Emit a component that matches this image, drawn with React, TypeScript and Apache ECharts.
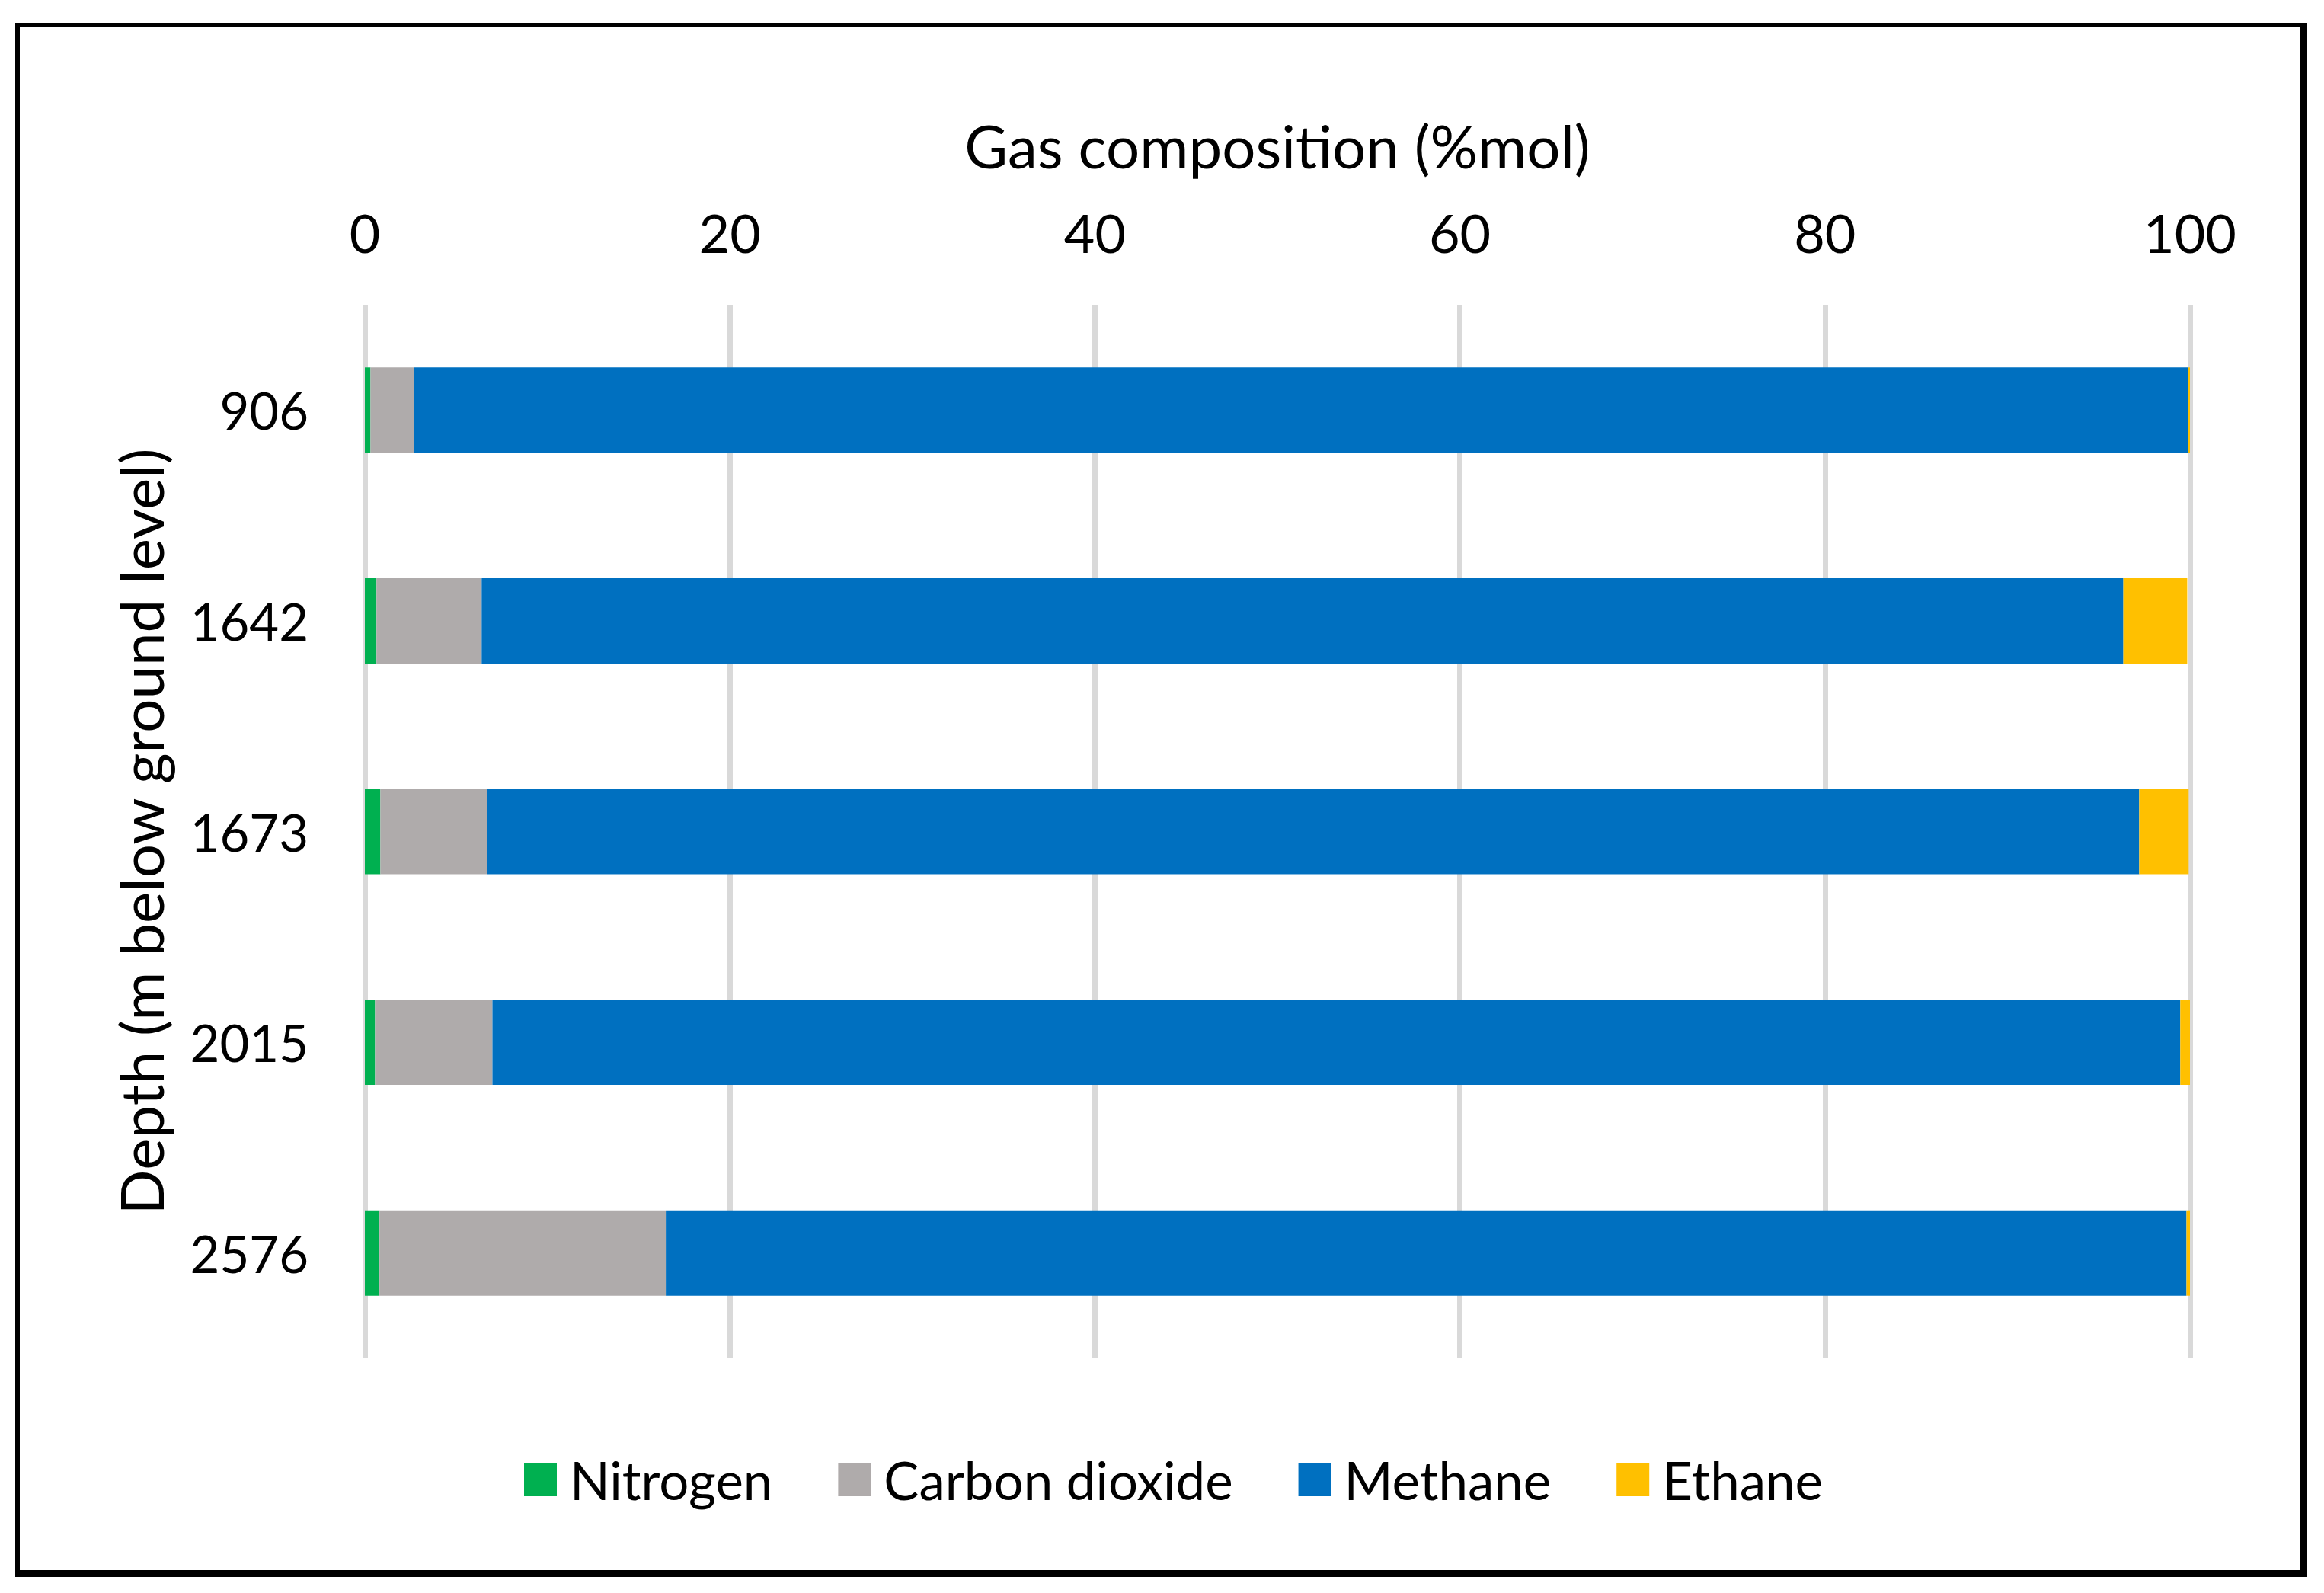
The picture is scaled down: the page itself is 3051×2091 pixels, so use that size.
import React, { useEffect, useRef } from "react";
import * as echarts from "echarts";

const depths = ["906", "1642", "1673", "2015", "2576"];
const nitrogen = [0.31, 0.64, 0.85, 0.56, 0.8];
const carbonDioxide = [2.38, 5.76, 5.84, 6.43, 15.69];
const methane = [97.2, 89.95, 90.53, 92.48, 83.32];
const ethane = [0.11, 3.5, 2.71, 0.53, 0.19];
const seriesNames = ["Nitrogen", "Carbon dioxide", "Methane", "Ethane"];
const seriesColors = ["#00B050", "#AFABAB", "#0070C0", "#FFC000"];

const FONT = "Lato";

export default function App() {
  const ref = useRef<HTMLDivElement>(null);
  useEffect(() => {
    if (!ref.current) return;
    const chart = echarts.init(ref.current, null, { renderer: "svg" });
    const values = [nitrogen, carbonDioxide, methane, ethane];
    chart.setOption({
      animation: false,
      backgroundColor: "#ffffff",
      textStyle: { fontFamily: FONT, color: "#000" },
      grid: { left: 479, right: 176, top: 400, bottom: 308, containLabel: false },
      legend: {
        left: 683,
        top: 1903,
        icon: "rect",
        itemWidth: 43,
        itemHeight: 43,
        itemGap: 86,
        data: seriesNames,
        textStyle: { fontFamily: FONT, fontSize: 69, color: "#000", padding: [0, 0, 0, 12] },
      },
      xAxis: {
        type: "value",
        position: "top",
        min: 0,
        max: 100,
        interval: 20,
        name: "Gas composition (%mol)",
        nameLocation: "middle",
        nameGap: 170,
        nameTextStyle: { fontFamily: FONT, fontSize: 78, color: "#000" },
        axisLine: { show: false },
        axisTick: { show: false },
        axisLabel: { fontFamily: FONT, fontSize: 70, color: "#000", margin: 60 },
        splitLine: { show: true, lineStyle: { color: "#D9D9D9", width: 7 } },
      },
      yAxis: {
        type: "category",
        inverse: true,
        data: depths,
        name: "Depth (m below ground level)",
        nameLocation: "middle",
        nameGap: 255,
        nameTextStyle: { fontFamily: FONT, fontSize: 78, color: "#000" },
        axisLine: { show: false },
        axisTick: { show: false },
        axisLabel: { fontFamily: FONT, fontSize: 67, color: "#000", margin: 74 },
        splitLine: { show: false },
      },
      series: seriesNames.map((name, i) => ({
        name,
        type: "bar",
        stack: "total",
        barCategoryGap: "59.5%",
        itemStyle: { color: seriesColors[i] },
        data: values[i],
      })),
      graphic: [
        { type: "rect", silent: true, shape: { x: 20, y: 30, width: 3009, height: 5 }, style: { fill: "#000" } },
        { type: "rect", silent: true, shape: { x: 20, y: 30, width: 6, height: 2040 }, style: { fill: "#000" } },
        { type: "rect", silent: true, shape: { x: 3020, y: 30, width: 9, height: 2040 }, style: { fill: "#000" } },
        { type: "rect", silent: true, shape: { x: 20, y: 2061, width: 3009, height: 9 }, style: { fill: "#000" } },
      ],
    });
    return () => chart.dispose();
  }, []);
  return (
    <div
      ref={ref}
      style={{ position: "fixed", left: 0, top: 0, width: 3051, height: 2091, background: "#fff" }}
    />
  );
}
